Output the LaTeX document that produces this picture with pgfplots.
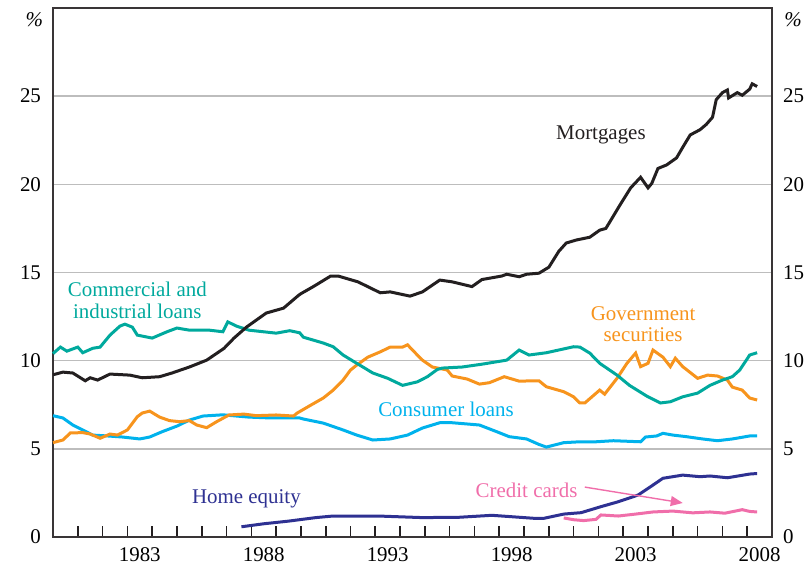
\documentclass[border=0pt]{standalone}
\usepackage{fontspec}
\setmainfont{Liberation Serif}
\usepackage{pgfplots}
\pgfplotsset{compat=1.18}
\usetikzlibrary{arrows.meta}
\definecolor{cmort}{HTML}{231F20}
\definecolor{cci}{HTML}{00A99D}
\definecolor{cgov}{HTML}{F7941D}
\definecolor{ccons}{HTML}{00B2EC}
\definecolor{chome}{HTML}{2E3192}
\definecolor{ccard}{HTML}{F06EAA}
\definecolor{cgrid}{HTML}{BDBDBD}
\begin{document}
\begin{tikzpicture}
\pgfplotsset{
  base/.style={
    at={(0,0)}, anchor=south west,
    scale only axis, width=359.5bp, height=264.5bp,
    xmin=1980, xmax=2009, ymin=0, ymax=30,
    ytick={0,5,10,15,20,25},
    tick label style={font=\fontsize{10.5}{12}\selectfont},
    /pgf/number format/assume math mode=true,
  }
}
\begin{axis}[base,
  axis line style={draw=cmort!90, line width=1bp},
  ymajorgrids, grid style={cgrid, line width=0.7bp},
  ytick style={draw=none},
  yticklabel style={xshift=-2.5bp},
  xtick={1983.5,1988.5,1993.5,1998.5,2003.5,2008.5},
  xticklabels={1983,1988,1993,1998,2003,2008},
  minor xtick={1981,1982,...,2008},
  major tick length=0pt, minor tick length=5.5bp,
  xtick pos=lower,
  minor tick style={draw=cmort, line width=0.8bp},
  xticklabel style={yshift=-2bp},
  clip=false,
]
% Consumer loans
\addplot[ccons, line width=1.5bp] coordinates {
(1980.0,6.88) (1980.4,6.75) (1980.8,6.35) (1981.2,6.07) (1981.6,5.78) (1982.2,5.73)
(1982.8,5.67) (1983.5,5.56) (1983.9,5.67) (1984.4,5.97) (1985.0,6.29) (1985.5,6.63)
(1986.05,6.86) (1986.85,6.93) (1987.4,6.86) (1987.9,6.8) (1988.6,6.76) (1989.3,6.75)
(1989.95,6.75) (1990.1,6.69) (1990.9,6.46) (1991.7,6.07) (1992.25,5.78) (1992.9,5.5)
(1993.6,5.56) (1994.3,5.78) (1994.9,6.18) (1995.6,6.48) (1996.1,6.48) (1996.7,6.41)
(1997.2,6.35) (1997.9,5.97) (1998.4,5.69) (1999.1,5.56) (1999.6,5.25) (1999.9,5.1)
(2000.6,5.35) (2001.25,5.4) (2001.9,5.4) (2002.6,5.46) (2003.7,5.4) (2003.9,5.67)
(2004.35,5.73) (2004.6,5.88) (2005.0,5.78) (2005.55,5.69) (2006.2,5.56) (2006.8,5.46)
(2007.4,5.56) (2008.1,5.73) (2008.4,5.73)
};
% Government securities
\addplot[cgov, line width=1.5bp] coordinates {
(1980.0,5.35) (1980.4,5.5) (1980.7,5.9) (1981.2,5.92) (1981.5,5.84) (1981.9,5.6)
(1982.3,5.84) (1982.6,5.78) (1983.0,6.07) (1983.4,6.82) (1983.6,7.03) (1983.9,7.14)
(1984.3,6.8) (1984.7,6.6) (1985.1,6.54) (1985.5,6.6) (1985.8,6.35) (1986.2,6.2)
(1986.6,6.54) (1987.1,6.92) (1987.7,6.97) (1988.2,6.88) (1989.0,6.92) (1989.7,6.86)
(1989.85,7.03) (1990.4,7.48) (1990.9,7.88) (1991.3,8.33) (1991.7,8.9) (1992.0,9.47)
(1992.25,9.75) (1992.7,10.2) (1993.2,10.5) (1993.6,10.77) (1994.1,10.77) (1994.3,10.9)
(1994.5,10.6) (1994.9,10.03) (1995.3,9.64) (1995.9,9.47) (1996.1,9.13) (1996.7,8.96)
(1997.2,8.67) (1997.6,8.75) (1998.2,9.09) (1998.8,8.84) (1999.6,8.86) (1999.9,8.52)
(2000.6,8.24) (2001.0,7.95) (2001.25,7.6) (2001.45,7.6) (2002.05,8.33) (2002.25,8.1)
(2002.75,9.0) (2003.15,9.85) (2003.5,10.43) (2003.7,9.66) (2004.0,9.85) (2004.2,10.6)
(2004.6,10.2) (2004.9,9.66) (2005.1,10.14) (2005.4,9.66) (2006.0,9.0) (2006.4,9.18)
(2006.8,9.13) (2007.2,8.9) (2007.4,8.5) (2007.8,8.33) (2008.1,7.88) (2008.4,7.77)
};
% Commercial and industrial loans
\addplot[cci, line width=1.5bp] coordinates {
(1980.0,10.4) (1980.08,10.5) (1980.3,10.77) (1980.56,10.54) (1981.0,10.77) (1981.2,10.45)
(1981.6,10.7) (1981.9,10.77) (1982.3,11.45) (1982.7,11.96) (1982.9,12.07) (1983.2,11.9)
(1983.4,11.45) (1984.0,11.28) (1984.6,11.64) (1985.0,11.85) (1985.5,11.73) (1986.3,11.73)
(1986.85,11.64) (1987.05,12.2) (1987.4,11.96) (1987.9,11.73) (1989.0,11.56) (1989.55,11.7)
(1989.95,11.58) (1990.1,11.33) (1990.9,11.0) (1991.3,10.79) (1991.7,10.32) (1992.25,9.85)
(1992.9,9.3) (1993.5,9.0) (1994.1,8.6) (1994.7,8.8) (1995.1,9.09) (1995.5,9.5)
(1995.7,9.58) (1996.5,9.64) (1997.3,9.8) (1998.3,10.03) (1998.8,10.6) (1999.2,10.32)
(1999.9,10.45) (2001.0,10.79) (2001.25,10.77) (2001.65,10.43) (2002.05,9.85) (2002.75,9.18)
(2003.25,8.6) (2003.95,7.99) (2004.5,7.6) (2004.9,7.67) (2005.4,7.95) (2006.0,8.16)
(2006.5,8.6) (2007.0,8.9) (2007.4,9.09) (2007.7,9.47) (2008.1,10.32) (2008.4,10.45)
};
% Mortgages
\addplot[cmort, line width=1.5bp] coordinates {
(1980.0,9.2) (1980.4,9.35) (1980.8,9.3) (1981.3,8.86) (1981.5,9.03) (1981.8,8.9)
(1982.3,9.24) (1983.1,9.18) (1983.6,9.03) (1984.3,9.09) (1984.8,9.3) (1985.5,9.64)
(1986.2,10.03) (1986.9,10.7) (1987.3,11.28) (1987.8,11.9) (1988.6,12.7) (1989.3,12.98)
(1989.9,13.7) (1990.0,13.8) (1990.5,14.2) (1991.2,14.8) (1991.5,14.8) (1992.3,14.47)
(1993.2,13.85) (1993.6,13.9) (1994.4,13.66) (1994.9,13.9) (1995.6,14.57) (1996.1,14.47)
(1996.9,14.2) (1997.3,14.6) (1998.1,14.8) (1998.3,14.9) (1998.8,14.76) (1999.1,14.9)
(1999.6,14.96) (2000.0,15.3) (2000.4,16.2) (2000.7,16.67) (2001.1,16.84) (2001.65,17.0)
(2002.05,17.4) (2002.3,17.5) (2002.9,18.9) (2003.3,19.8) (2003.7,20.4) (2004.0,19.8)
(2004.15,20.05) (2004.4,20.9) (2004.75,21.1) (2005.15,21.5) (2005.4,22.1) (2005.7,22.8)
(2006.1,23.1) (2006.35,23.4) (2006.6,23.8) (2006.75,24.8) (2007.0,25.2) (2007.2,25.35)
(2007.25,24.9) (2007.6,25.2) (2007.8,25.05) (2008.1,25.4) (2008.2,25.7) (2008.4,25.55)
};
% Home equity
\addplot[chome, line width=1.5bp] coordinates {
(1987.6,0.58) (1988.5,0.75) (1989.5,0.9) (1990.6,1.1) (1991.3,1.19) (1993.1,1.19)
(1994.9,1.1) (1996.4,1.12) (1997.7,1.23) (1999.4,1.06) (1999.8,1.06) (2000.6,1.3)
(2001.3,1.38) (2002.1,1.72) (2002.8,2.0) (2003.6,2.38) (2004.1,2.85) (2004.6,3.33)
(2005.4,3.51) (2006.1,3.42) (2006.5,3.46) (2007.2,3.36) (2008.1,3.57) (2008.4,3.6)
};
% Credit cards
\addplot[ccard, line width=1.5bp] coordinates {
(2000.6,1.08) (2001.0,0.98) (2001.4,0.93) (2001.9,1.0) (2002.1,1.25) (2002.8,1.19)
(2003.5,1.3) (2004.2,1.42) (2005.0,1.47) (2005.8,1.37) (2006.5,1.42) (2007.1,1.35)
(2007.8,1.55) (2008.1,1.45) (2008.4,1.42)
};
\draw[ccard, line width=0.7bp, -{Triangle[length=6bp,width=5bp]}]
  (axis cs:2001.45,2.83) -- (axis cs:2005.4,1.93);
\begin{scope}[font=\fontsize{10.5}{11}\selectfont]
\node[cmort] at (axis cs:2002.1,22.8) {Mortgages};
\node[cci, align=center] at (axis cs:1983.4,13.4) {Commercial and\\industrial loans};
\node[cgov, align=center] at (axis cs:2003.8,12.07) {Government\\securities};
\node[ccons] at (axis cs:1995.85,7.26) {Consumer loans};
\node[chome] at (axis cs:1987.8,2.15) {Home equity};
\node[ccard] at (axis cs:1999.1,2.66) {Credit cards};
\end{scope}
\end{axis}
\begin{axis}[base,
  axis line style={draw=none},
  xtick=\empty,
  ytick style={draw=none},
  yticklabel pos=right,
  yticklabel style={xshift=2bp},
  clip=false,
]
\addplot[draw=none] coordinates {(1980,0)};
\node[font=\fontsize{10.5}{12}\selectfont\itshape] at (axis cs:1979.25,29.35) {\%};
\node[font=\fontsize{10.5}{12}\selectfont\itshape] at (axis cs:2009.85,29.35) {\%};
\end{axis}
\pgfresetboundingbox
\path[use as bounding box] (-26.5bp,-18.5bp) rectangle (378bp,268.5bp);
\end{tikzpicture}
\end{document}
